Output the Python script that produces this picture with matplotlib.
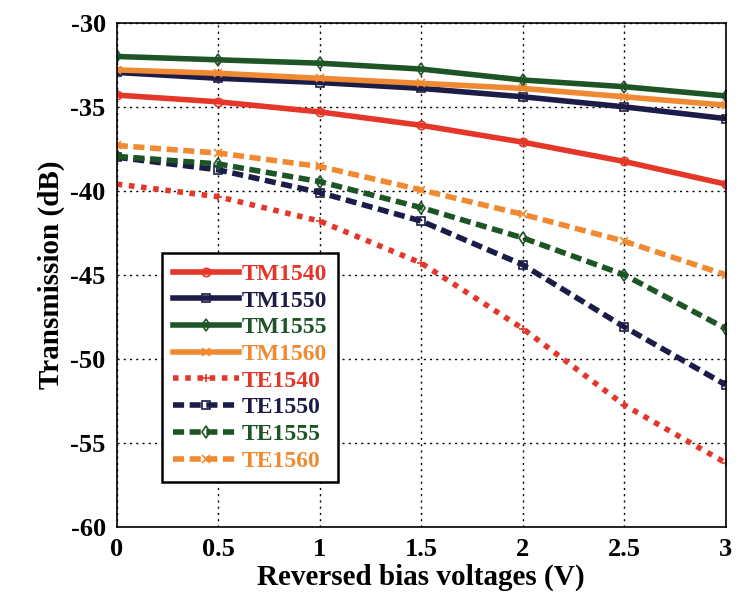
import matplotlib.pyplot as plt
import numpy as np

plt.rcParams['font.family'] = ['Liberation Serif', 'DejaVu Serif']
plt.rcParams['font.weight'] = 'bold'
plt.rcParams['axes.unicode_minus'] = False

# bias voltage (V)
bias = [0, 0.5, 1, 1.5, 2, 2.5, 3]

# transmission (dB)
tm1540 = [-34.3, -34.7, -35.3, -36.1, -37.1, -38.25, -39.6]
tm1550 = [-32.95, -33.3, -33.55, -33.9, -34.4, -35.0, -35.7]
tm1555 = [-32.0, -32.2, -32.4, -32.75, -33.4, -33.8, -34.35]
tm1560 = [-32.8, -33.0, -33.3, -33.6, -33.9, -34.4, -34.9]
te1540 = [-39.6, -40.35, -41.8, -44.3, -48.2, -52.75, -56.2]
te1550 = [-38.0, -38.75, -40.1, -41.8, -44.4, -48.1, -51.55]
te1555 = [-37.95, -38.4, -39.45, -41.0, -42.8, -45.0, -48.2]
te1560 = [-37.3, -37.75, -38.55, -39.95, -41.4, -43.0, -45.0]

labels = ['TM1540', 'TM1550', 'TM1555', 'TM1560', 'TE1540', 'TE1550', 'TE1555', 'TE1560']
series = [tm1540, tm1550, tm1555, tm1560, te1540, te1550, te1555, te1560]

red = '#e5362a'
navy = '#1c1c48'
green = '#1d5526'
orange = '#f08a32'
colors = [red, navy, green, orange, red, navy, green, orange]
markers = ['o', 's', 'd', 'x', '+', 's', 'd', 'x']
styles = ['-', '-', '-', '-', (0, (1, 1.2)), (0, (2, 1)), (0, (2, 1)), (0, (2, 1))]

fig = plt.figure(figsize=(7.39, 6.02), dpi=100)
ax = fig.add_axes([0.158, 0.125, 0.824, 0.837])

for y, lab, c, m, ls in zip(series, labels, colors, markers, styles):
    ax.plot(bias, y, color=c, linestyle=ls, linewidth=4, marker=m,
            markersize=6, markerfacecolor='none', markeredgewidth=1.2,
            label=lab)

ax.set_xlim(0, 3)
ax.set_ylim(-60, -30)
ax.set_xticks(bias)
ax.set_xticklabels(['0', '0.5', '1', '1.5', '2', '2.5', '3'])
ax.set_yticks([-60, -55, -50, -45, -40, -35, -30])
ax.tick_params(labelsize=19, direction='in', length=0, pad=8)
for t in ax.get_xticklabels() + ax.get_yticklabels():
    t.set_fontweight('bold')

ax.grid(True, color='black', linestyle=(0, (1.5, 3)), linewidth=1)
for s in ax.spines.values():
    s.set_linewidth(1.2)

ax.set_xlabel('Reversed bias voltages (V)', fontsize=21, fontweight='bold', labelpad=2)
ax.set_ylabel('Transmission (dB)', fontsize=21, fontweight='bold', labelpad=4)

leg = ax.legend(loc='upper left', bbox_to_anchor=(0.075, 0.544), borderaxespad=0,
                handlelength=2.8, handletextpad=0.1, labelspacing=0.22,
                borderpad=0.45, fancybox=False, framealpha=1,
                edgecolor='black', prop={'weight': 'bold', 'size': 17})
leg.get_frame().set_linewidth(1.8)
for txt, c in zip(leg.get_texts(), colors):
    txt.set_color(c)

fig.savefig('out.png', dpi=100)
